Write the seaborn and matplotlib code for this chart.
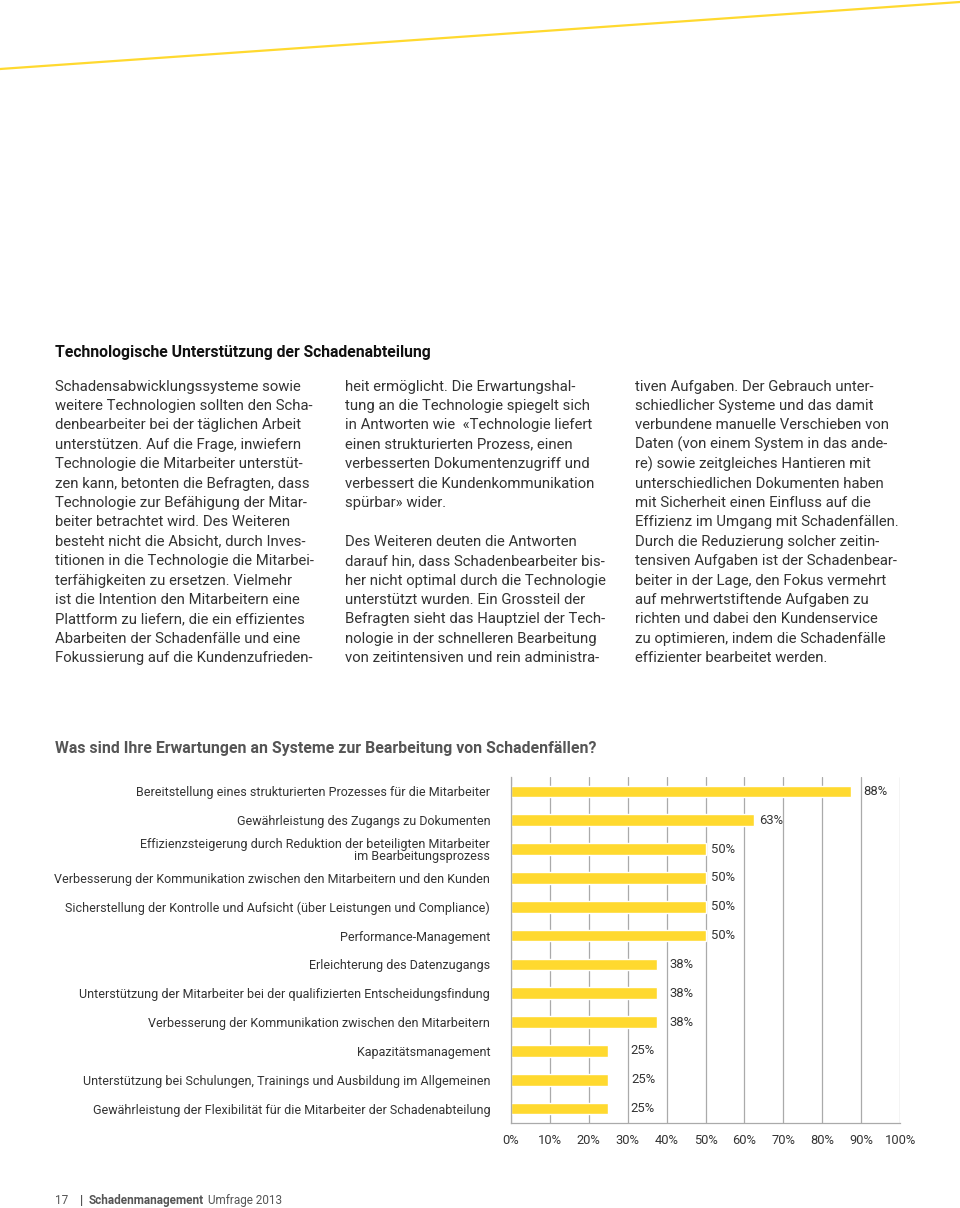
import matplotlib
matplotlib.use('Agg')
import matplotlib.pyplot as plt
from matplotlib.lines import Line2D
import numpy as np
import seaborn as sns

# Daten der Grafik (8 Befragte -> Werte in 12,5%-Schritten)
kategorien = [
    'Bereitstellung eines strukturierten Prozesses für die Mitarbeiter',
    'Gewährleistung des Zugangs zu Dokumenten',
    'Effizienzsteigerung durch Reduktion der beteiligten Mitarbeiter\nim Bearbeitungsprozess',
    'Verbesserung der Kommunikation zwischen den Mitarbeitern und den Kunden',
    'Sicherstellung der Kontrolle und Aufsicht (über Leistungen und Compliance)',
    'Performance-Management',
    'Erleichterung des Datenzugangs',
    'Unterstützung der Mitarbeiter bei der qualifizierten Entscheidungsfindung',
    'Verbesserung der Kommunikation zwischen den Mitarbeitern',
    'Kapazitätsmanagement',
    'Unterstützung bei Schulungen, Trainings und Ausbildung im Allgemeinen',
    'Gewährleistung der Flexibilität für die Mitarbeiter der Schadenabteilung',
]
werte = [87.5, 62.5, 50, 50, 50, 50, 37.5, 37.5, 37.5, 25, 25, 25]
x_ticks = list(range(0, 101, 10))

# Abstand der Wertbeschriftungen (Pixel), wie im Original leicht unregelmässig
label_offsets = [12, 5, 6, 6, 6, 6, 13, 13, 13, 22, 23, 22]

titel = 'Technologische Unterstützung der Schadenabteilung'
chart_titel = 'Was sind Ihre Erwartungen an Systeme zur Bearbeitung von Schadenfällen?'

spalte1 = [
    'Schadensabwicklungssysteme sowie',
    'weitere Technologien sollten den Scha-',
    'denbearbeiter bei der täglichen Arbeit',
    'unterstützen. Auf die Frage, inwiefern',
    'Technologie die Mitarbeiter unterstüt-',
    'zen kann, betonten die Befragten, dass',
    'Technologie zur Befähigung der Mitar-',
    'beiter betrachtet wird. Des Weiteren',
    'besteht nicht die Absicht, durch Inves-',
    'titionen in die Technologie die Mitarbei-',
    'terfähigkeiten zu ersetzen. Vielmehr',
    'ist die Intention den Mitarbeitern eine',
    'Plattform zu liefern, die ein effizientes',
    'Abarbeiten der Schadenfälle und eine',
    'Fokussierung auf die Kundenzufrieden-',
]
spalte2 = [
    'heit ermöglicht. Die Erwartungshal-',
    'tung an die Technologie spiegelt sich',
    'in Antworten wie  «Technologie liefert',
    'einen strukturierten Prozess, einen',
    'verbesserten Dokumentenzugriff und',
    'verbessert die Kundenkommunikation',
    'spürbar» wider.',
    '',
    'Des Weiteren deuten die Antworten',
    'darauf hin, dass Schadenbearbeiter bis-',
    'her nicht optimal durch die Technologie',
    'unterstützt wurden. Ein Grossteil der',
    'Befragten sieht das Hauptziel der Tech-',
    'nologie in der schnelleren Bearbeitung',
    'von zeitintensiven und rein administra-',
]
spalte3 = [
    'tiven Aufgaben. Der Gebrauch unter-',
    'schiedlicher Systeme und das damit',
    'verbundene manuelle Verschieben von',
    'Daten (von einem System in das ande-',
    're) sowie zeitgleiches Hantieren mit',
    'unterschiedlichen Dokumenten haben',
    'mit Sicherheit einen Einfluss auf die',
    'Effizienz im Umgang mit Schadenfällen.',
    'Durch die Reduzierung solcher zeitin-',
    'tensiven Aufgaben ist der Schadenbear-',
    'beiter in der Lage, den Fokus vermehrt',
    'auf mehrwertstiftende Aufgaben zu',
    'richten und dabei den Kundenservice',
    'zu optimieren, indem die Schadenfälle',
    'effizienter bearbeitet werden.',
]

gelb = '#FFD92F'
textgrau = '#333333'
linien = '#aaaaaa'

sns.set_style('white')
plt.rcParams['font.family'] = ['Roboto', 'DejaVu Sans']

W, H = 960, 1208
fig = plt.figure(figsize=(W / 100, H / 100), dpi=100)


def fx(x):
    return x / W


def fy(y):
    return 1 - y / H


# gelbe Linie oben
fig.add_artist(Line2D([0, 1], [fy(69), fy(2)], transform=fig.transFigure,
                      color=gelb, lw=1.6))

# Überschrift und Fliesstext
fig.text(fx(55), fy(357.5), titel, fontsize=11.3, fontweight='bold', color='#111111')
zeilen_abstand = 19.4
for x0, spalte in zip([55, 345, 635], [spalte1, spalte2, spalte3]):
    for i, zeile in enumerate(spalte):
        fig.text(fx(x0), fy(390.5 + i * zeilen_abstand), zeile, fontsize=10.7,
                 color=textgrau, va='baseline')

fig.text(fx(55), fy(753.5), chart_titel, fontsize=11.4, fontweight='bold', color='#555555')

# Balkendiagramm
ax = fig.add_axes([fx(511), fy(1123), (900 - 511) / W, (1123 - 777) / H])
sns.barplot(x=werte, y=kategorien, orient='h', color=gelb, saturation=1,
            width=0.4, ax=ax)
ax.set_xlim(0, 100)
ax.set_ylim(len(werte) - 0.5, -0.5)
ax.set_xticks(x_ticks)
ax.set_xticklabels([f'{t}%' for t in x_ticks], fontsize=9.3, color=textgrau)
ax.set_yticks(range(len(kategorien)))
ax.set_yticklabels(kategorien, fontsize=9.0, color=textgrau, linespacing=0.95)
ax.set_yticks(np.arange(-0.5, len(kategorien), 1), minor=True)
ax.tick_params(axis='y', which='major', length=0, pad=15)
ax.tick_params(axis='y', which='minor', length=3, color=linien, width=0.8)
ax.tick_params(axis='x', length=3, color=linien, width=0.8, pad=5)
ax.xaxis.grid(True, color=linien, lw=0.9)
ax.set_axisbelow(True)
for s in ['top', 'right']:
    ax.spines[s].set_visible(False)
for s in ['left', 'bottom']:
    ax.spines[s].set_color(linien)
    ax.spines[s].set_linewidth(0.9)
ax.set_xlabel('')
ax.set_ylabel('')

for i, (v, off) in enumerate(zip(werte, label_offsets)):
    ax.annotate(f'{int(v + 0.5)}%', xy=(v, i), xytext=(off, 0),
                textcoords='offset pixels', va='center', ha='left',
                fontsize=9.4, color=textgrau, annotation_clip=False)

# Fusszeile
fig.text(fx(55), fy(1204), '17', fontsize=8.5, color='#555555')
fig.text(fx(80), fy(1204), '|', fontsize=9, color='#555555', fontweight='bold')
t = fig.text(fx(89), fy(1204), 'Schadenmanagement', fontsize=8.5,
             color='#555555', fontweight='bold')
fig.canvas.draw()
bb = t.get_window_extent()
fig.text(fx(bb.x1 + 4), fy(1204), 'Umfrage 2013', fontsize=8.5, color='#555555')

fig.savefig('out.png', dpi=100)
